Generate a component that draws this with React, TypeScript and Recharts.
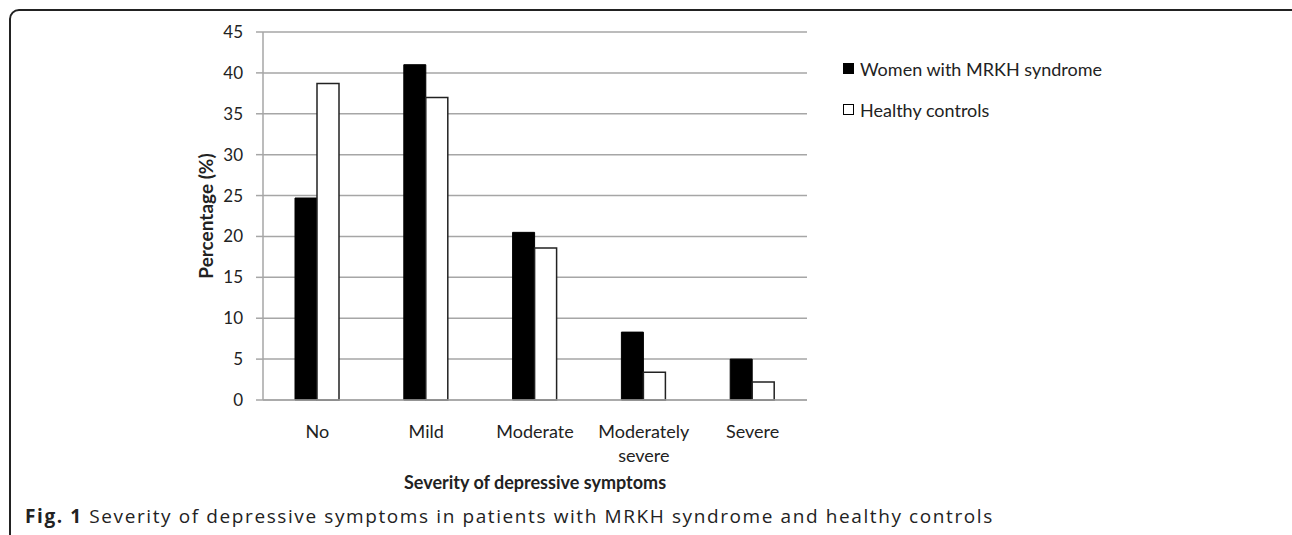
import { BarChart, Bar, XAxis, YAxis, CartesianGrid, Label } from "recharts";

const categories = ["No", "Mild", "Moderate", "Moderately severe", "Severe"];
const mrkhValues = [24.7, 41.0, 20.5, 8.3, 5.0];
const controlValues = [38.7, 37.0, 18.6, 3.4, 2.2];
const yTicks = [0, 5, 10, 15, 20, 25, 30, 35, 40, 45];

const seriesNames = ["Women with MRKH syndrome", "Healthy controls"];

const data = categories.map((name, i) => ({
  name,
  mrkh: mrkhValues[i],
  control: controlValues[i],
}));

const FONT = "Lato, 'Open Sans', sans-serif";

const CategoryTick = (props: any) => {
  const { x, y, payload } = props;
  const words: string[] = payload.value.length > 10 ? payload.value.split(" ") : [payload.value];
  return (
    <text x={x} y={y + 30} textAnchor="middle" fill="#222" fontSize={18} fontFamily={FONT}>
      {words.map((w, i) => (
        <tspan key={i} x={x} dy={i === 0 ? 0 : 24}>
          {w}
        </tspan>
      ))}
    </text>
  );
};

const LegendBox = () => (
  <div style={{ position: "absolute", left: 843, top: 48, fontFamily: FONT, fontSize: 18, color: "#222" }}>
    {seriesNames.map((n, i) => (
      <div key={n} style={{ display: "flex", alignItems: "center", height: 41 }}>
        <span
          style={{
            width: 9,
            height: 9,
            marginRight: 6,
            background: i === 0 ? "#000" : "#fff",
            border: "1.5px solid #000",
          }}
        />
        {n}
      </div>
    ))}
  </div>
);

export default function App() {
  return (
    <div style={{ position: "fixed", left: 0, top: 0, width: 1292, height: 535, background: "#fff", overflow: "hidden" }}>
      <div
        style={{
          position: "absolute",
          left: 9,
          top: 9,
          width: 1300,
          height: 560,
          border: "2px solid #222",
          borderRadius: 10,
          boxSizing: "border-box",
        }}
      />
      <BarChart
        width={1292}
        height={535}
        data={data}
        margin={{ top: 32, right: 485, bottom: 10, left: 190 }}
        barGap={0}
        barSize={22}
        style={{ position: "absolute", left: 0, top: 0 }}
      >
        <CartesianGrid vertical={false} stroke="#a6a6a6" strokeWidth={1.5} />
        <XAxis
          dataKey="name"
          height={125}
          axisLine={{ stroke: "#a6a6a6", strokeWidth: 1.5 }}
          tickLine={false}
          tick={<CategoryTick />}
          interval={0}
        >
          <Label
            value="Severity of depressive symptoms"
            position="insideTop"
            offset={76}
            style={{ fontFamily: FONT, fontSize: 18, fontWeight: 700, fill: "#222" }}
          />
        </XAxis>
        <YAxis
          width={73}
          domain={[0, 45]}
          ticks={yTicks}
          interval={0}
          axisLine={{ stroke: "#a6a6a6", strokeWidth: 1.5 }}
          tickLine={{ stroke: "#a6a6a6", strokeWidth: 1.5 }}
          tickSize={7}
          tickMargin={13}
          tick={{ fill: "#222", fontSize: 17, fontFamily: FONT }}
        >
          <Label
            content={({ viewBox }: any) => {
              const cx = viewBox.x + 15;
              const cy = viewBox.y + viewBox.height / 2;
              return (
                <text
                  x={cx}
                  y={cy}
                  transform={`rotate(-90 ${cx} ${cy})`}
                  textAnchor="middle"
                  dominantBaseline="central"
                  fill="#222"
                  fontSize={19}
                  fontWeight={700}
                  fontFamily={FONT}
                >
                  Percentage (%)
                </text>
              );
            }}
          />
        </YAxis>
        <Bar dataKey="mrkh" name={seriesNames[0]} fill="#000" stroke="#000" strokeWidth={1} isAnimationActive={false} />
        <Bar dataKey="control" name={seriesNames[1]} fill="#fff" stroke="#222" strokeWidth={1.5} isAnimationActive={false} />
      </BarChart>
      <LegendBox />
      <div
        style={{
          position: "absolute",
          left: 25,
          top: 503,
          fontFamily: "'Open Sans', sans-serif",
          fontSize: 19,
          letterSpacing: 1.6,
          color: "#222",
          whiteSpace: "nowrap",
        }}
      >
        <b>Fig. 1</b> Severity of depressive symptoms in patients with MRKH syndrome and healthy controls
      </div>
    </div>
  );
}
